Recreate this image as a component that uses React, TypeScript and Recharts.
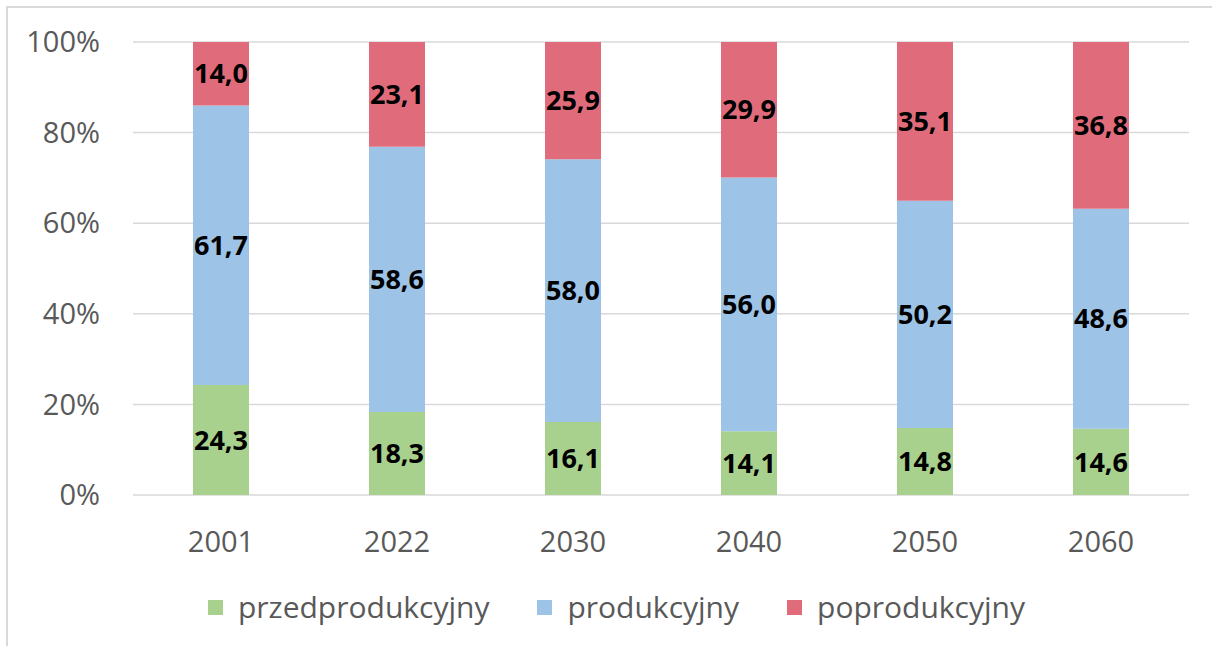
import React from 'react';
import { BarChart, Bar, XAxis, YAxis, CartesianGrid, Legend, LabelList } from 'recharts';

const years = ['2001', '2022', '2030', '2040', '2050', '2060'];
const przedprodukcyjny = [24.3, 18.3, 16.1, 14.1, 14.8, 14.6];
const produkcyjny = [61.7, 58.6, 58.0, 56.0, 50.2, 48.6];
const poprodukcyjny = [14.0, 23.1, 25.9, 29.9, 35.1, 36.8];
const yTicks = [0, 0.2, 0.4, 0.6, 0.8, 1];

const series = [
  { key: 'pre', name: 'przedprodukcyjny', color: '#a9d18e' },
  { key: 'prod', name: 'produkcyjny', color: '#9dc3e6' },
  { key: 'post', name: 'poprodukcyjny', color: '#e06c7b' },
];

const data = years.map((year, i) => ({
  year,
  pre: przedprodukcyjny[i],
  prod: produkcyjny[i],
  post: poprodukcyjny[i],
}));

const FONT = '"Open Sans", sans-serif';
const fmt = (v: any) => Number(v).toFixed(1).replace('.', ',');
const labelStyle = { fill: '#000', fontSize: 27, fontWeight: 700, fontFamily: FONT };
const tickStyle = { fill: '#595959', fontSize: 29, fontFamily: FONT };

// legenda w kolejności serii
const renderLegend = () => (
  <div style={{ display: 'flex', justifyContent: 'center', alignItems: 'center', height: 40, paddingLeft: 44 }}>
    {series.map((s, i) => (
      <div key={s.key} style={{ display: 'flex', alignItems: 'center', marginRight: i < series.length - 1 ? 48 : 0 }}>
        <span style={{ width: 15, height: 15, background: s.color, display: 'inline-block', marginRight: 15 }} />
        <span style={{ color: '#595959', fontSize: 30, fontFamily: FONT, lineHeight: '40px' }}>{s.name}</span>
      </div>
    ))}
  </div>
);

export default function App() {
  return (
    <div
      style={{
        position: 'absolute',
        left: 0,
        top: 0,
        width: 1212,
        height: 646,
        background: '#fff',
        fontFamily: FONT,
      }}
    >
      {/* ramka */}
      <div style={{ position: 'absolute', left: 6, top: 6, right: 0, bottom: 0, borderTop: '2px solid #d9d9d9', borderLeft: '2px solid #d9d9d9' }} />
      <BarChart
        width={1212}
        height={646}
        data={data}
        stackOffset="expand"
        barSize={56}
        margin={{ top: 42, right: 23, bottom: 19, left: 0 }}
        style={{ position: 'absolute', left: 0, top: 0 }}
      >
        <CartesianGrid vertical={false} stroke="#d9d9d9" strokeWidth={1.5} />
        <XAxis
          dataKey="year"
          axisLine={false}
          tickLine={false}
          tickMargin={30}
          height={92}
          tick={tickStyle}
        />
        <YAxis
          width={133}
          ticks={yTicks}
          domain={[0, 1]}
          axisLine={false}
          tickLine={false}
          tickMargin={27}
          tickFormatter={(v) => `${Math.round(v * 100)}%`}
          tick={tickStyle}
        />
        <Legend verticalAlign="bottom" content={renderLegend} />
        {series.map((s) => (
          <Bar key={s.key} dataKey={s.key} name={s.name} stackId="a" fill={s.color} isAnimationActive={false}>
            <LabelList dataKey={s.key} position="center" formatter={fmt} style={labelStyle} />
          </Bar>
        ))}
      </BarChart>
    </div>
  );
}
